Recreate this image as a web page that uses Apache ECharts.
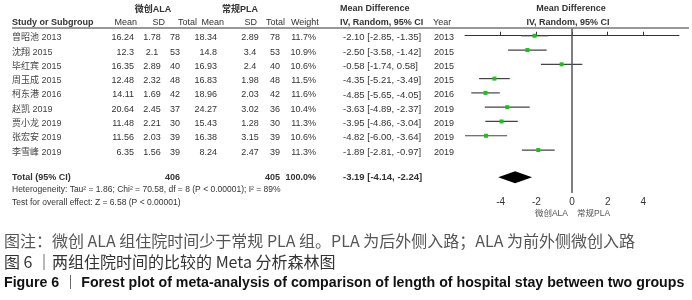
<!DOCTYPE html>
<html>
<head>
<meta charset="utf-8">
<script src="https://cdn.jsdelivr.net/npm/echarts@6/dist/echarts.min.js"></script>
<style>
  html, body { margin: 0; padding: 0; background: #fff; }
  #chart { width: 692px; height: 300px; }
</style>
</head>
<body>
<div id="chart"></div>
<script>
// study rows
const studies = ['曾昭池 2013', '沈翔 2015', '毕红宾 2015', '周玉成 2015', '柯东港 2016', '赵凯 2019', '贾小龙 2019', '张宏安 2019', '李雪峰 2019']
const years = ['2013', '2015', '2015', '2015', '2016', '2019', '2019', '2019', '2019']
const alaMean = ['16.24', '12.3', '16.35', '12.48', '14.11', '20.64', '11.48', '11.56', '6.35']
const alaSD = ['1.78', '2.1', '2.89', '2.32', '1.69', '2.45', '2.21', '2.03', '1.56']
const alaN = [78, 53, 40, 48, 42, 37, 30, 39, 39]
const plaMean = ['18.34', '14.8', '16.93', '16.83', '18.96', '24.27', '15.43', '16.38', '8.24']
const plaSD = ['2.89', '3.4', '2.4', '1.98', '2.03', '3.02', '1.28', '3.15', '2.47']
const plaN = [78, 53, 40, 48, 42, 36, 30, 39, 39]
const weights = ['11.7%', '10.9%', '10.6%', '11.5%', '11.6%', '10.4%', '11.3%', '10.6%', '11.3%']
const md = [-2.10, -2.50, -0.58, -4.35, -4.85, -3.63, -3.95, -4.82, -1.89]
const ciLow = [-2.85, -3.58, -1.74, -5.21, -5.65, -4.89, -4.86, -6.00, -2.81]
const ciHigh = [-1.35, -1.42, 0.58, -3.49, -4.05, -2.37, -3.04, -3.64, -0.97]
// pooled
const totalRow = ['Total (95% CI)', '406', '405', '100.0%']
const totalMD = [-3.19, -4.14, -2.24]
const totalY = 9.9
const xTicks = [-4, -2, 0, 2, 4]

const fmt = v => v.toFixed(2)
const ciText = (m, l, h) => `${fmt(m)} [${fmt(l)}, ${fmt(h)}]`

const chart = echarts.init(document.getElementById('chart'))

chart.setOption({
  animation: false,
  grid: { left: 465, right: 13, top: 28.6, bottom: 107.1 },
  xAxis: {
    type: 'value', min: -6, max: 6, interval: 2,
    axisLine: { show: true, lineStyle: { color: '#333', width: 1 } },
    axisTick: { show: true, inside: true, length: 4, customValues: xTicks, lineStyle: { color: '#333' } },
    axisLabel: { customValues: xTicks, color: '#333', fontSize: 10, margin: 4, fontFamily: 'Liberation Sans' },
    splitLine: { show: false },
  },
  yAxis: {
    type: 'value', inverse: true, min: -0.5, max: 11,
    show: false,
  },
  series: [
    {
      type: 'custom',
      data: md.map((m, i) => [m, i, ciLow[i], ciHigh[i]]),
      encode: { x: [0, 2, 3], y: 1 },
      renderItem(params, api) {
        const y = api.value(1)
        const a = api.coord([api.value(2), y])
        const b = api.coord([api.value(3), y])
        const c = api.coord([api.value(0), y])
        return {
          type: 'group',
          children: [
            { type: 'line', shape: { x1: a[0], y1: a[1], x2: b[0], y2: b[1] }, style: { stroke: '#444', lineWidth: 1.2 } },
            { type: 'rect', shape: { x: c[0] - 2, y: c[1] - 2, width: 4, height: 4 }, style: { fill: '#1fbf1f' } },
          ],
        }
      },
    },
    {
      type: 'custom',
      data: [[totalMD[0], totalY, totalMD[1], totalMD[2]]],
      encode: { x: [0, 2, 3], y: 1 },
      renderItem(params, api) {
        const y = api.value(1)
        const l = api.coord([api.value(2), y])
        const h = api.coord([api.value(3), y])
        const m = api.coord([api.value(0), y])
        return {
          type: 'polygon',
          shape: { points: [[l[0], l[1]], [m[0], m[1] - 6], [h[0], h[1]], [m[0], m[1] + 6]] },
          style: { fill: '#000' },
        }
      },
    },
    {
      type: 'line', data: [],
      markLine: {
        symbol: 'none', silent: true, label: { show: false },
        lineStyle: { color: '#555', width: 1.5, type: 'solid' },
        data: [{ xAxis: 0 }],
      },
    },
  ],
})

// table text, placed on the same rows as the plot
const rowY = v => chart.convertToPixel({ gridIndex: 0 }, [0, v])[1] + 2
const F = 'Liberation Sans'
const CJK = 'Liberation Sans, Noto Sans CJK SC'
const txt = (text, x, y, align, opt = {}) => ({
  type: 'text', x, y, silent: true,
  style: {
    text, textAlign: align, textVerticalAlign: 'middle',
    fill: opt.fill || '#333',
    font: `${opt.bold ? 'bold ' : ''}${opt.size || 9}px ${opt.family || F}`,
  },
})

const g = []
// headers
g.push(txt('微创ALA', 153, 10, 'center', { bold: true, family: CJK }))
g.push(txt('常规PLA', 240, 10, 'center', { bold: true, family: CJK }))
g.push(txt('Mean Difference', 340, 9, 'left', { bold: true }))
g.push(txt('Mean Difference', 571, 9, 'center', { bold: true }))
const hdr = [
  ['Study or Subgroup', 12, 'left'], ['Mean', 137, 'right'], ['SD', 165, 'right'], ['Total', 197, 'right'],
  ['Mean', 224, 'right'], ['SD', 257, 'right'], ['Total', 285, 'right'], ['Weight', 291, 'left'],
  ['IV, Random, 95% CI', 340, 'left'], ['Year', 433, 'left'], ['IV, Random, 95% CI', 568, 'center'],
]
hdr.forEach(h => g.push(txt(h[0], h[1], 23, h[2], { bold: h[0] === 'Study or Subgroup' || h[0].startsWith('IV') })))
g.push({ type: 'line', silent: true, shape: { x1: 12, y1: 28, x2: 689, y2: 28 }, style: { stroke: '#333', lineWidth: 1 } })

studies.forEach((s, i) => {
  const y = rowY(i)
  g.push(txt(s, 12, y, 'left', { family: CJK, fill: '#444' }))
  g.push(txt(alaMean[i], 134, y, 'right'))
  g.push(txt(alaSD[i], 152, y, 'center'))
  g.push(txt(String(alaN[i]), 180, y, 'right'))
  g.push(txt(plaMean[i], 217, y, 'right'))
  g.push(txt(plaSD[i], 250, y, 'center'))
  g.push(txt(String(plaN[i]), 280, y, 'right'))
  g.push(txt(weights[i], 316, y, 'right'))
  g.push(txt(ciText(md[i], ciLow[i], ciHigh[i]), 343, y, 'left', { size: 9.5 }))
  g.push(txt(years[i], 434, y, 'left'))
})

const ty = rowY(totalY) - 2
g.push(txt(totalRow[0], 12, ty, 'left', { bold: true }))
g.push(txt(totalRow[1], 180, ty, 'right', { bold: true }))
g.push(txt(totalRow[2], 280, ty, 'right', { bold: true }))
g.push(txt(totalRow[3], 316, ty, 'right', { bold: true }))
g.push(txt(ciText(totalMD[0], totalMD[1], totalMD[2]), 343, ty, 'left', { bold: true, size: 9.5 }))
g.push(txt('Heterogeneity: Tau² = 1.86; Chi² = 70.58, df = 8 (P < 0.00001); I² = 89%', 12, 190, 'left', { size: 8.5 }))
g.push(txt('Test for overall effect: Z = 6.58 (P < 0.00001)', 12, 203, 'left', { size: 8.5 }))

// favours labels under the axis
g.push(txt('微创ALA', 568, 214, 'right', { size: 8.5, fill: '#555', family: CJK }))
g.push(txt('常规PLA', 577, 214, 'left', { size: 8.5, fill: '#555', family: CJK }))

// caption
g.push(txt('图注：微创 ALA 组住院时间少于常规 PLA 组。PLA 为后外侧入路；ALA 为前外侧微创入路', 4, 241, 'left', { size: 16, fill: '#555', family: 'Noto Sans CJK SC' }))
g.push(txt('图 6 ｜两组住院时间的比较的 Meta 分析森林图', 4, 262, 'left', { size: 16, fill: '#333', family: 'Noto Sans CJK SC' }))
g.push(txt('Figure 6 ｜ Forest plot of meta-analysis of comparison of length of hospital stay between two groups', 4, 283, 'left', { size: 14.2, bold: true, fill: '#111', family: CJK }))

chart.setOption({ graphic: g })
window.addEventListener('resize', () => chart.resize())
</script>
</body>
</html>
